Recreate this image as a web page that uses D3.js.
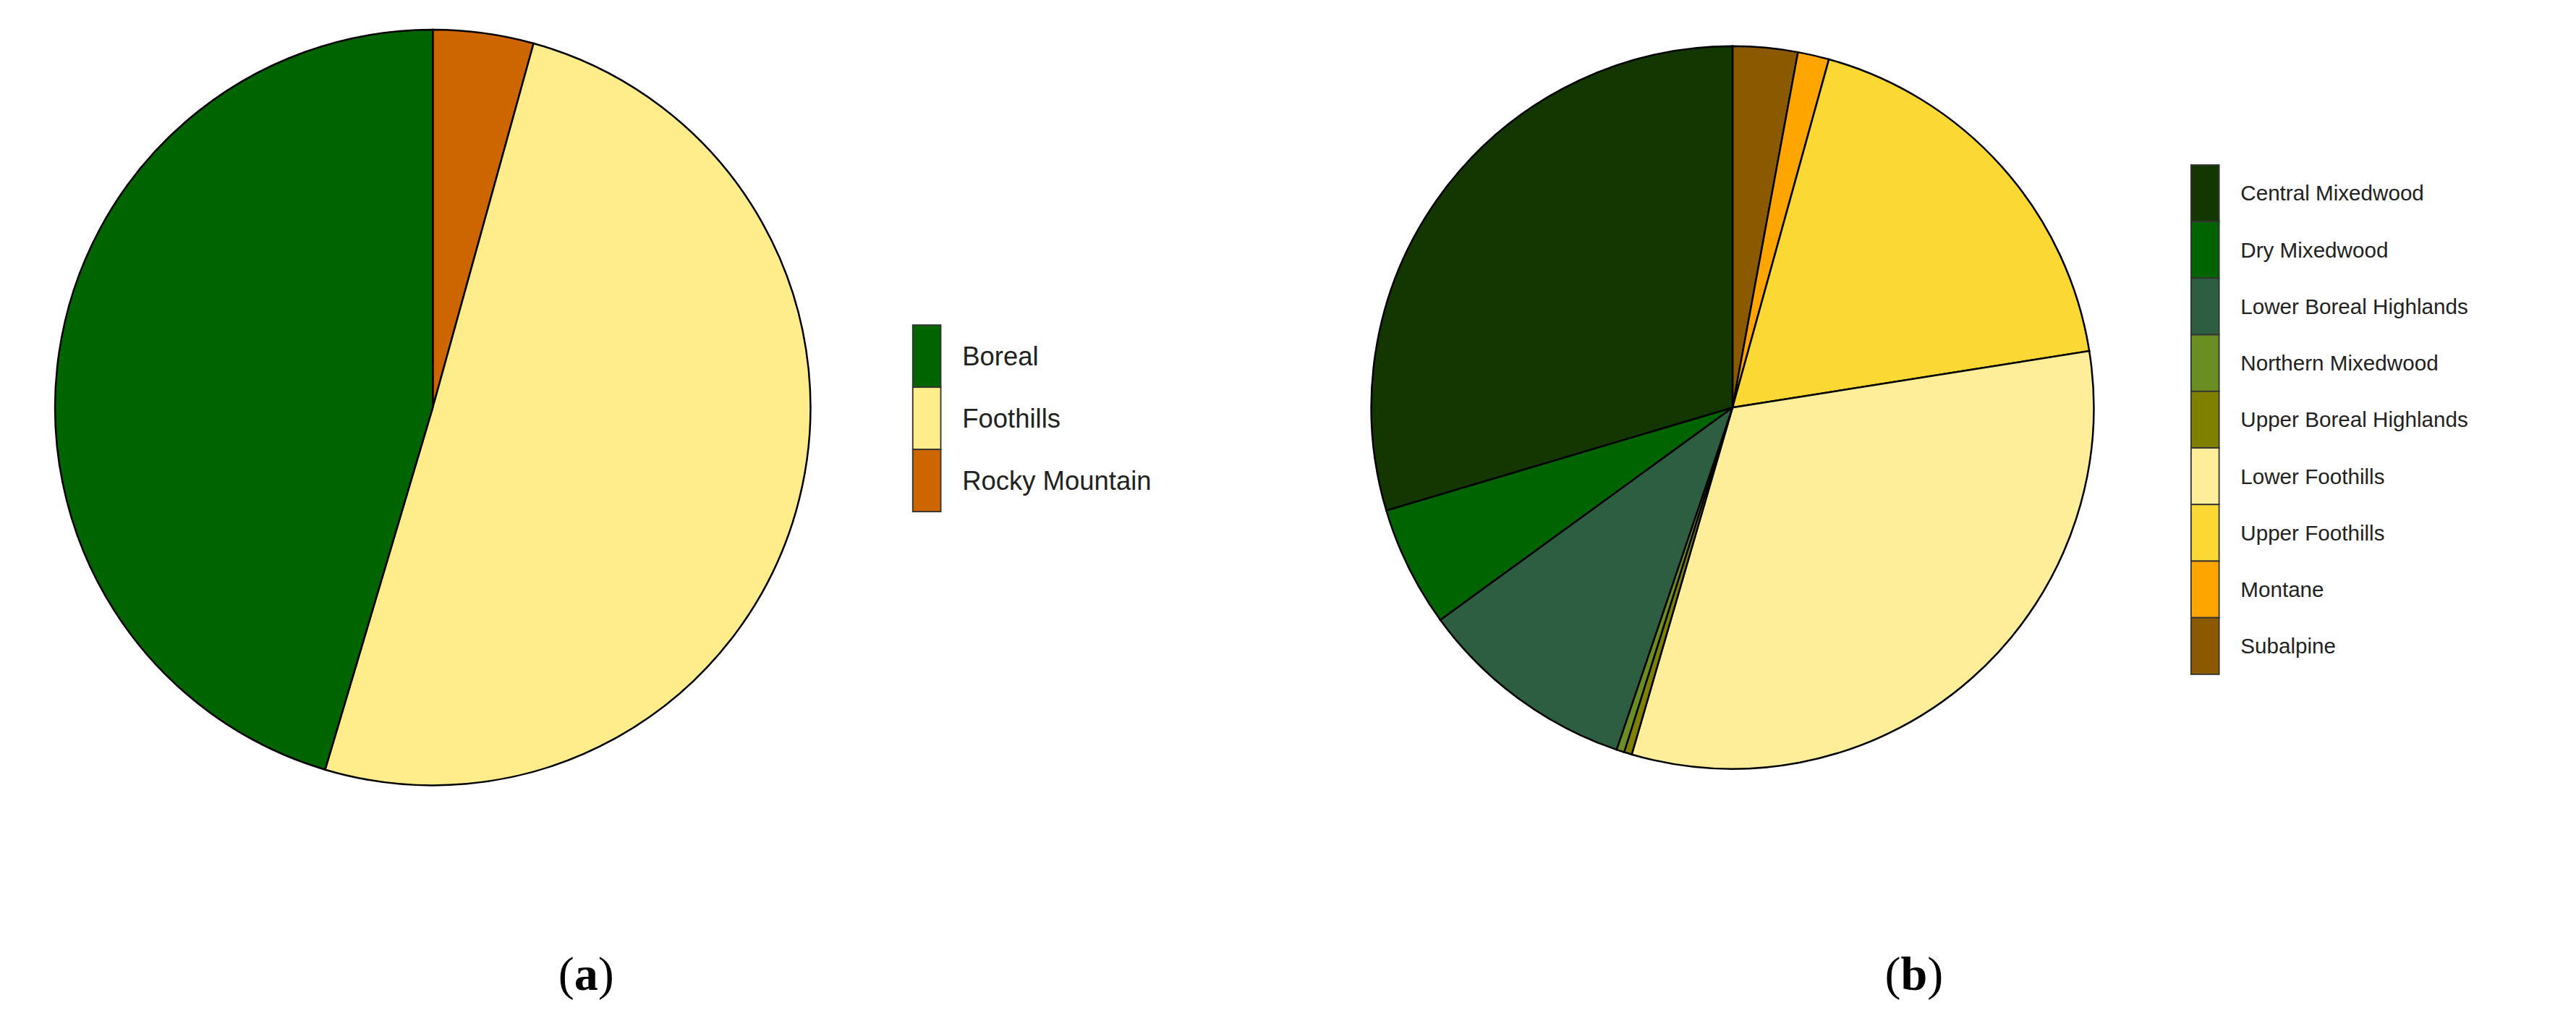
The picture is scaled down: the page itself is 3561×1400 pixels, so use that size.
<!DOCTYPE html>
<html><head><meta charset="utf-8">
<script src="https://cdn.jsdelivr.net/npm/d3@7"></script>
<style>body{margin:0;background:#fff}</style></head>
<body><svg id="c" width="3561" height="1400" viewBox="0 0 1561 614"></svg>
<script>
const catsA = ["Rocky Mountain","Foothills","Boreal"];
const valsA = [4.3, 50.3, 45.4];
const colsA = ["#CD6600","#FFEC8B","#006400"];
const legendA = ["Boreal","Foothills","Rocky Mountain"];

const catsB = ["Subalpine","Montane","Upper Foothills","Lower Foothills","Upper Boreal Highlands","Northern Mixedwood","Lower Boreal Highlands","Dry Mixedwood","Central Mixedwood"];
const valsB = [2.9, 1.4, 18.2, 32.0, 0.35, 0.35, 9.8, 5.4, 29.6];
const colsB = ["#8B5A00","#FFA500","#FBD833","#FFEE99","#808000","#6B8E23","#2E5E41","#006400","#143601"];
const legendB = ["Central Mixedwood","Dry Mixedwood","Lower Boreal Highlands","Northern Mixedwood","Upper Boreal Highlands","Lower Foothills","Upper Foothills","Montane","Subalpine"];

const svg = d3.select("#c");
function drawPie(cats, vals, cols, cx, cy, r){
  const color = d3.scaleOrdinal(cats, cols);
  const pie = d3.pie().sort(null).value((d,i)=>vals[i]);
  const arc = d3.arc().innerRadius(0).outerRadius(r);
  svg.append("g").attr("transform",`translate(${cx},${cy})`)
    .selectAll("path").data(pie(cats)).join("path")
    .attr("d",arc).attr("fill",d=>color(d.data))
    .attr("stroke","#000").attr("stroke-width",1.1);
  return color;
}
function drawLegend(items, color, x, y0, h, fs){
  const y = d3.scaleBand().domain(items).range([y0, y0+h*items.length]);
  const g = svg.append("g");
  g.selectAll("rect").data(items).join("rect")
    .attr("x",x).attr("y",d=>y(d)).attr("width",17).attr("height",y.bandwidth())
    .attr("fill",d=>color(d)).attr("stroke","#333").attr("stroke-width",0.8);
  g.selectAll("text").data(items).join("text")
    .attr("x",x+30).attr("y",d=>y(d)+y.bandwidth()/2).attr("dy","0.35em")
    .attr("font-family","Liberation Sans, Arial, sans-serif").attr("font-size",fs).attr("fill","#222")
    .text(d=>d);
}
const cA = drawPie(catsA, valsA, colsA, 262, 247, 229);
drawLegend(legendA, cA, 553, 197, 37.7, 16);
const cB = drawPie(catsB, valsB, colsB, 1050, 247, 219);
drawLegend(legendB, cB, 1328, 100, 34.3, 13);

[["a",355],["b",1160]].forEach(([t,x])=>{
  const tx = svg.append("text").attr("x",x).attr("y",600).attr("text-anchor","middle")
    .attr("font-family","Liberation Serif, Times New Roman, serif").attr("font-size",29);
  tx.append("tspan").text("(");
  tx.append("tspan").attr("font-weight","bold").text(t);
  tx.append("tspan").text(")");
});
</script></body></html>
